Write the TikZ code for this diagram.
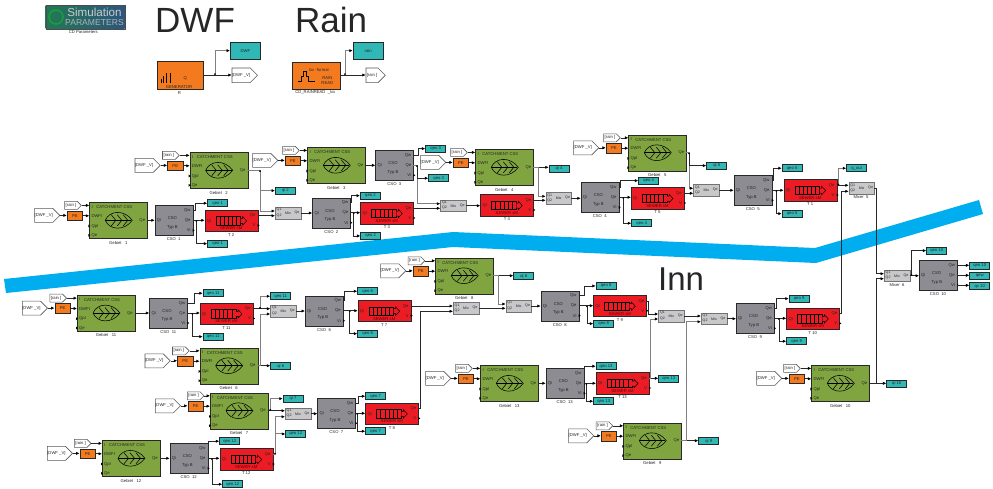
\documentclass[tikz,border=0pt]{standalone}
\usepackage{fontspec}
\setmainfont{Liberation Sans}
\usetikzlibrary{calc,arrows.meta,shapes.symbols}
\definecolor{riverBlue}{RGB}{0, 174, 239}
\definecolor{catchGreen}{RGB}{128, 165, 64}
\definecolor{csoGray}{RGB}{140, 140, 146}
\definecolor{mixGray}{RGB}{200, 200, 202}
\definecolor{sewerRed}{RGB}{237, 28, 36}
\definecolor{quantTeal}{RGB}{47, 184, 181}
\definecolor{peOrange}{RGB}{244, 122, 32}
\definecolor{edgeDark}{RGB}{40, 40, 40}
\definecolor{simLeft}{RGB}{35, 120, 85}
\definecolor{simRight}{RGB}{45, 85, 125}
\tikzset{
  tiny4/.style={font=\fontsize{4.2}{4.6}\selectfont,inner sep=0pt,text=black!85},
  tiny3/.style={font=\fontsize{3.6}{3.8}\selectfont,inner sep=0pt,text=black!85},
  bigtitle/.style={font=\fontsize{35}{35}\selectfont,text=black!85,inner sep=0pt,anchor=base west},
  blockbase/.style={draw=edgeDark,line width=.85pt,anchor=north west,inner sep=0pt},
  catchbox/.style={blockbase,fill=catchGreen,minimum width=58pt,minimum height=36pt},
  csobox/.style={blockbase,fill=csoGray,minimum width=38pt,minimum height=30pt},
  sewerbox/.style={blockbase,fill=sewerRed,minimum width=53pt,minimum height=21.3pt},
  mixbox/.style={blockbase,fill=mixGray,draw=black!55,minimum width=25.5pt,minimum height=11.5pt},
  quantbox/.style={blockbase,fill=quantTeal,minimum width=20pt,minimum height=7pt,tiny4},
  pebox/.style={blockbase,fill=peOrange,minimum width=15.3pt,minimum height=9.5pt,tiny4},
  gotag/.style={draw=black!65,fill=white,signal,signal to=east,anchor=north west,inner sep=0pt,line width=.6pt,tiny4},
  wire/.style={draw=edgeDark,line width=.6pt,-{Latex[length=3.4pt,width=3.2pt,black]}},
  bus/.style={wire,draw=black!50,line width=1pt},
  dotted wire/.style={wire,{Circle[length=1.6pt,black]}-{Latex[length=3.4pt,width=3.2pt,black]}},
  dotted bus/.style={bus,{Circle[length=1.6pt,black]}-{Latex[length=3.4pt,width=3.2pt,black]}}
}
\begin{document}
\begin{tikzpicture}[x=1pt,y=-1pt]
    \useasboundingbox (0,0) rectangle (993,488);
    \fill[riverBlue] (4,279) -- (453,232) -- (815,248) -- (979,200) -- (983,214) -- (816,263) -- (453,247) -- (6,293) -- cycle;

    \node[bigtitle] (dwftitle) at (155,32) {DWF};
    \node[bigtitle] (raintitle) at (295,32) {Rain};
    \node[bigtitle,font=\fontsize{33}{33}\selectfont] (inntitle) at (658,290.5) {Inn};

    \shade[left color=simLeft,right color=simRight,draw=black!70] (45.7,5) rectangle (124.7,28.7);
    \draw[simLeft!70!green,line width=1.5pt] (56,17) circle (7);
    \node[font=\fontsize{11.6}{12}\selectfont,text=black!20,inner sep=0pt] (simtext) at (94.5,12) {Simulation};
    \node[font=\fontsize{8.6}{9}\selectfont,text=black!30,inner sep=0pt] (partext) at (94.5,22.5) {PARAMETERS};
    \node[tiny4] (simcap) at (83.3,32.3) {CD Parameters};

    \node[blockbase,fill=peOrange,minimum width=45.4pt,minimum height=28.3pt] (dwfgen) at (157.3,61) {};
    \node[quantbox,minimum width=30pt,minimum height=17pt] (dwfq) at (230,41.7) {DWF};
    \node[gotag,minimum width=25.3pt,minimum height=14.6pt] (dwfgo) at (231.7,67.7) {[DWF \_V]};
    \foreach \bx/\bh in {161/4,163/7,166/10,170.5/10} {
       \draw[line width=.9pt] (\bx,83) -- ++(0,-\bh);
     }
    \node[tiny4] (dwfq2) at (185.3,78.3) {Q};
    \node[tiny4] (dwfgentxt) at (179,87.3) {GENERATOR};
    \node[tiny4] (dwfcap) at (179.3,93.3) {R};
    \coordinate (dwfout) at (202.7,75);
    \draw[wire] (dwfout) -- (dwfout -| dwfgo.west);
    \draw[dotted bus] (dwfout) ++(12.3,0) |- (dwfq.west);

    \node[blockbase,fill=peOrange,minimum width=48pt,minimum height=27.6pt] (raingen) at (292.3,61.7) {};
    \node[quantbox,minimum width=30pt,minimum height=17pt] (rainq) at (352.7,41.7) {rain};
    \node[gotag,minimum width=19.3pt,minimum height=14.6pt] (raingo) at (365.7,67.7) {[rain ]};
    \draw[line width=.7pt] (298,81.5) -- (301,81.5) -- (301,76) -- (303,76) -- (303,71) -- (306,71) -- (306,76) -- (308,76) -- (308,81.5) -- (315,81.5);
    \node[tiny4] (raintxt) at (319,69.7) {lxx -format};
    \node[tiny4] (raintxta) at (327.3,78.3) {RAIN};
    \node[tiny4] (raintxtb) at (327.3,83.3) {READ};
    \node[tiny4] (raincap) at (315.3,92.3) {CD\_RAINREAD~~\_lxx};
    \coordinate (rainout) at (340.3,75);
    \draw[wire] (rainout) -- (rainout -| raingo.west);
    \draw[dotted bus] (rainout) ++(4.7,0) |- (rainq.west);

    \foreach \n/\x/\y/\r in {1/89.3/202.3/-25,2/189.7/152.3/-27.5,3/307.3/147.3/-25,4/475.3/149.3/-25,5/628.3/134.7/-25,
      11/77/295/-27.5,6/199.7/347.7/-27.5,7/210/392.7/-23,12/102/440.3/-28,8/435.3/257.7/-27.5,13/480.3/365.3/-25,
      9/623.3/422.7/-27.5,10/811.3/365.3/-28} {
       \begin{scope}[shift={(\x,\y)}]
         \node[catchbox] (g\n) at (0,0) {};
         \node[tiny4] at (25,5) {CATCHMENT CSS};
         \node[tiny4,anchor=west] at (2,4.3) {I};
         \node[tiny4,anchor=west] at (2,13.7) {DWFI};
         \node[tiny4,anchor=west] at (2,23.7) {Qpl};
         \node[tiny4,anchor=west] at (2,33) {Qe};
         \node[tiny4,anchor=east] at (56,18) {Qe};
         \node[tiny4] at (29,40.4) {Gebiet~~~\n};
         \draw[line width=.55pt,fill=catchGreen] (16,18) .. controls (20,8) and (35,7) .. (43,18) .. controls (35,29) and (20,28) .. (16,18);
         \draw[line width=1pt] (16,18) -- (42,18);
         \foreach \c in {22,28,34} {
            \draw[line width=.55pt] (\c,12.5) -- (\c+4.5,18) -- (\c,23.5);
          }
         \foreach \py in {23.7,33} {
            \fill[black] (-1,\py-1.4) -- (1,\py) -- (-1,\py+1.4) -- cycle;
          }
         \node[gotag,minimum width=16.7pt,minimum height=8pt] (g\n-rain) at (\r,-1.2) {[rain ]};
         \node[gotag,minimum width=24.7pt,minimum height=14pt] (g\n-dwf) at (-55,5.8) {[DWF \_V]};
         \node[pebox] (g\n-pe) at (-22.5,8.3) {PE};
         \coordinate (g\n-i) at (0,2.8);
         \coordinate (g\n-d) at (0,13.2);
         \coordinate (g\n-out) at (58,18);
       \end{scope}
       \draw[wire] (g\n-rain.east) -- (g\n-rain.east -| g\n-i);
       \draw[wire] (g\n-dwf.east) -- (g\n-dwf.east -| g\n-pe.west);
       \draw[wire] (g\n-pe.east) -- (g\n-pe.east -| g\n-d);
     }

    \foreach \n/\x/\y in {1/154.7/205.3,2/312.3/197.7,3/375.3/150.3,4/580.7/182.3,5/733.7/175.3,10/919/260.3,11/149.3/298,
      6/305/295.7,7/317.3/398.3,12/169.7/443.3,8/540.7/290.7,13/545.7/368.3,9/736/303.3} {
       \begin{scope}[shift={(\x,\y)}]
         \node[csobox] (c\n) at (0,0) {};
         \node[tiny4,anchor=west] at (2,15.3) {Qi};
         \node[tiny4,anchor=east] at (36,5) {Qw};
         \node[tiny4,anchor=east] at (36,15) {Qe};
         \node[tiny4,anchor=east] at (36,25) {Vi};
         \node[tiny4] at (17.7,13) {CSO};
         \node[tiny4] at (17.7,21.7) {Typ B};
         \node[tiny4] at (19,34) {CSO~~\n};
         \fill[black] (38,23.6) -- (40,25) -- (38,26.4) -- cycle;
         \coordinate (c\n-qi) at (0,15.3);
         \coordinate (c\n-qw) at (38,5);
         \coordinate (c\n-qe) at (38,15);
         \coordinate (c\n-vi) at (38,25);
       \end{scope}
     }

    \foreach \n/\x/\y in {2/204.7/209.7,3/360.3/202.3,4/480.3/194.3,5/631/187.3,1/783.7/179.3,11/200/302.7,7/357.7/300,
      8/365.3/402.7,12/219.7/448.3,9/593.3/295,13/596/372.3,10/786.3/307.7} {
       \begin{scope}[shift={(\x,\y)}]
         \node[sewerbox] (t\n) at (0,0) {};
         \node[tiny4,anchor=west] at (2,11.5) {Qi};
         \node[tiny4,anchor=east] at (51,6) {Qe};
         \node[tiny4,anchor=east] at (51,15.7) {V};
         \node[tiny4,text=red!40!black] at (26.5,18.8) {SEWER sM};
         \node[tiny4] at (26.5,25) {T~\n};
         \draw[line width=.6pt] (11.3,7) rectangle (36,15.3);
         \foreach \d in {15.4,19.5,23.6,27.7,31.8} {
            \draw[line width=.6pt] (\d,7) -- (\d,15.3);
          }
         \draw[line width=.5pt,fill=sewerRed] (36,8.7) -- (38,8.7) -- (38,7) -- (42,11.2) -- (38,15.4) -- (38,13.7) -- (36,13.7);
         \fill[black] (53,14.3) -- (55,15.7) -- (53,17.1) -- cycle;
         \coordinate (t\n-qi) at (0,11.3);
         \coordinate (t\n-qe) at (53,6);
         \coordinate (t\n-v) at (53,15.7);
       \end{scope}
     }

    \foreach \n/\x/\y in {1/275/207,2/440.3/199.7,3/545.7/192.3,4/693.3/184.3,5/848.7/182.3,6/884/269.7,7/270.3/305,8/285/407.7,
      9/453/302.3,10/505.7/300,11/658.3/310,12/701/312.7} {
       \begin{scope}[shift={(\x,\y)}]
         \node[mixbox] (m\n) at (0,0) {};
         \node[tiny3,anchor=west] at (1.5,2.9) {Q1};
         \node[tiny3,anchor=west] at (1.5,8.3) {Q2};
         \node[tiny3] at (13,6) {Mix};
         \node[tiny3,anchor=east] at (24.5,5.7) {Qe};
         \coordinate (m\n-a) at (0,4);
         \coordinate (m\n-b) at (0,9);
         \coordinate (m\n-out) at (25.5,6);
       \end{scope}
     }
    \node[tiny4] (mixcapa) at (861,197) {Mixer~~5};
    \node[tiny4] (mixcapb) at (897,285) {Mixer~~6};

    \foreach \q/\x/\y/\lab in {qi2/275/186.7/qi 2,qo1a/207.3/199.3/qeo 1,qo1b/207.3/239.7/qeo 1,qo2a/360/191.7/qeo 2,
      qo2b/360.3/232/qeo 2,qo3a/425.3/144.7/qeo 3,qo3b/428.3/174.3/qeo 3,qi4/548.7/164.7/qi 4,qi5/706.3/161.7/qi 5,
      qo4a/638.3/176.7/qeo 4,qo4b/631.3/219.3/qeo 4,qo5a/781.7/164.3/qeo 5,qo5b/781.7/209.7/qeo 5,qout/846.3/164.3/q\_out,
      qo10a/926.3/246.7/qeo 10,qo10b/969.3/262/qeo 10,qew/969.3/272.3/qew,qv10/969.3/282.3/qv 10,qo11a/202.7/289.3/qeo 11,
      qo11b/202.7/332.7/qeo 11,qo11c/270.3/292.3/qeo 11,qi6/270.3/362.3/qi 6,qi7/282.7/394.7/qi 7,qo12c/285.3/430/qeo 12,
      qo12a/219.3/437.3/qeo 12,qo12b/222.3/480.3/qeo 12,qo6a/357.3/287.3/qeo 6,qo6b/357.3/329.7/qeo 6,qi8/513.3/272/qi 8,
      qo7a/365.3/392.3/qeo 7,qo7b/365.3/427.3/qeo 7,qo8a/595.7/282/qeo 8,qo8b/593.3/319.7/qeo 8,qo9a/788.7/294.7/qeo 9,
      qo9b/786.3/337.3/qeo 9,qo13a/595.7/362.3/qeo 13,qo13b/593.3/397.3/qeo 13,qo13c/658.3/374.7/qeo 13,qi9/698.3/437.3/qi 9,
      qi10/886.3/379.7/qi 10} {
       \node[quantbox] (\q) at (\x,\y) {\lab};
     }

    \foreach \a/\b in {g1-out/c1-qi,g3-out/c3-qi,g11-out/c11-qi,g12-out/c12-qi,g13-out/c13-qi,c1-qe/t2-qi,c2-qe/t3-qi,
      c4-qe/t5-qi,c5-qe/t1-qi,c11-qe/t11-qi,c6-qe/t7-qi,c7-qe/t8-qi,c8-qe/t9-qi,c13-qe/t13-qi,c9-qe/t10-qi,c12-qe/t12-qi,
      t2-qe/m1-b,t3-qe/m2-b,t4-qe/m3-b,t5-qe/m4-b,t1-qe/m5-a,t7-qe/m9-a,t11-qe/m7-a,m1-out/c2-qi,m2-out/t4-qi,
      m3-out/c4-qi,m4-out/c5-qi,m6-out/c10-qi,m7-out/c6-qi,m8-out/c7-qi,m10-out/c8-qi,m12-out/c9-qi,m11-out/m12-a,g7-out/m8-a,
      c10-qw/qo10b.west,c10-qe/qew.west,c10-vi/qv10.west,g10-out/qi10.west,g9-out/qi9.west,t13-qe/qo13c.west,g6-out/qi6.west,
      g8-out/qi8.west,g4-out/qi4.west,m9-out/m10-b} {
       \draw[wire] (\a) -- (\a -| \b);
     }
    \foreach \a/\dx/\b in {c1-qw/2.7/qo1a.west,c2-qw/1.4/qo2a.west,c3-qw/4.7/qo3a.west,c4-qw/1.7/qo4a.west,c5-qw/1.3/qo5a.west,
      c6-qw/1.7/qo6a.west,c7-qw/2.7/qo7a.west,c8-qw/6/qo8a.west,c9-qw/2.4/qo9a.west,c11-qw/7.4/qo11a.west,c12-qw/1/qo12a.west,
      c13-qw/1/qo13a.west,t8-qe/2.4/m9-b,t9-qe/2.4/m11-a,t10-qe/2.4/m5-b,m5-out/1.6/m6-a,g10-out/6.7/m6-b} {
       \draw[wire] (\a) -- ++(\dx,0) |- (\b);
     }
    \foreach \a/\dx/\b in {g2-out/12.3/m1-a,c3-qe/3.7/m2-a,g4-out/5/m3-a,g5-out/2.7/m4-a,g6-out/2.3/m7-b,g8-out/5/m10-a,
      t12-qe/2.3/m8-b,t13-qe/1.7/m11-b,g9-out/4.7/m12-b} {
       \draw[bus] (\a) -- ++(\dx,0) |- (\b);
     }
    \foreach \a/\dx/\b in {c1-qe/3.7/qo1b.west,c2-qe/3.4/qo2b.west,c3-qe/3.7/qo3b.west,c4-qe/4.7/qo4b.west,c5-qe/4.7/qo5b.west,
      c11-qe/5/qo11b.west,c6-qe/6.7/qo6b.west,c7-qe/2/qo7b.west,c8-qe/8.3/qo8b.west,c9-qe/5/qo9b.west,c12-qe/4.3/qo12b.west,
      c13-qe/2.7/qo13b.west,g5-out/2.7/qi5.west,m6-out/2/qo10a.west} {
       \draw[dotted wire] (\a) ++(\dx,0) |- (\b);
     }
    \foreach \a/\dx/\b in {g2-out/12.3/qi2.west,t1-qe/1.6/qout.west,t11-qe/7/qo11c.west,g7-out/2.3/qi7.west,t12-qe/2.3/qo12c.west} {
       \draw[dotted bus] (\a) ++(\dx,0) |- (\b);
     }
\end{tikzpicture}
\end{document}
